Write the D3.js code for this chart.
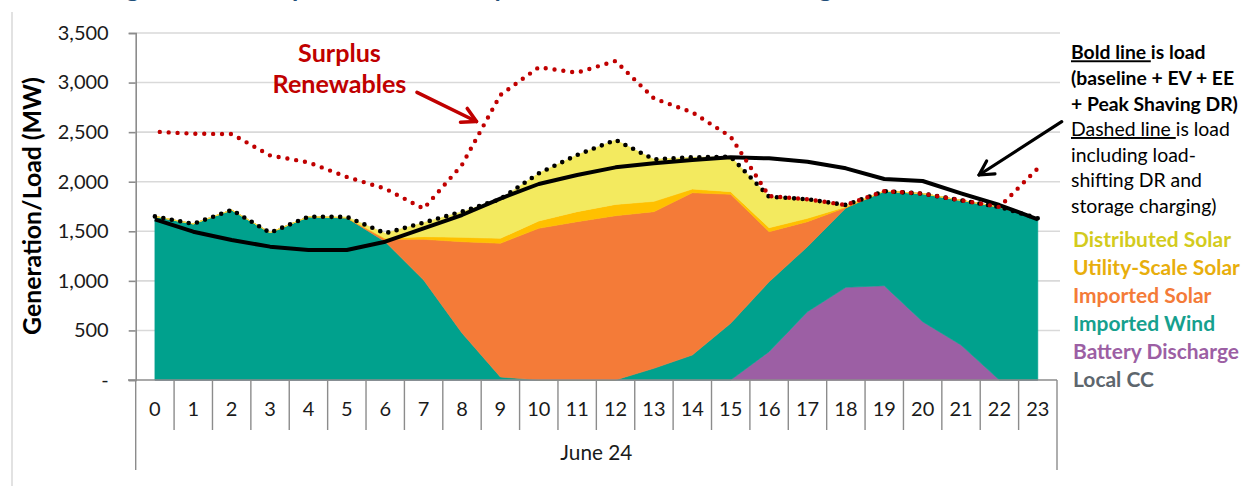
<!DOCTYPE html>
<html><head><meta charset="utf-8">
<script src="https://cdn.jsdelivr.net/npm/d3@7"></script>
<style>
body{margin:0;background:#fff}
svg{display:block}
text{font-family:Lato,"Open Sans","Noto Sans",sans-serif}
</style>
</head><body>
<svg id="c" width="1248" height="486"></svg>
<script>
// ---------------- data ----------------
const hours = [0,1,2,3,4,5,6,7,8,9,10,11,12,13,14,15,16,17,18,19,20,21,22,23];
const dayLabel = "June 24";
const localCC          = [0,0,0,0,0,0,0,0,0,0,0,0,0,0,0,0,0,0,0,0,0,0,0,0];
const batteryDischarge = [0,0,0,0,0,0,0,0,0,0,0,0,0,0,0,0,286,689,935,951,588,353,0,0];
const importedWind     = [1650,1575,1715,1486,1647,1635,1395,1009,474,30,0,0,0,118,252,572,704,656,800,954,1292,1459,1745,1630];
const importedSolar    = [0,0,0,0,0,0,25,410,921,1349,1530,1597,1657,1580,1637,1301,506,252,5,0,0,0,0,0];
const utilitySolar     = [0,0,0,0,0,3,10,27,44,50,74,101,114,104,37,27,40,34,8,0,0,0,0,0];
const distributedSolar = [0,0,0,0,0,7,50,141,259,396,481,572,650,424,320,352,313,192,17,0,0,0,0,0];
const loadBold   = [1620,1496,1412,1345,1311,1311,1395,1530,1664,1830,1977,2068,2145,2186,2219,2246,2236,2202,2135,2027,2007,1883,1765,1621];
const loadDashed = [1650,1575,1715,1486,1647,1645,1480,1587,1698,1825,2085,2270,2421,2226,2246,2252,1849,1823,1765,1905,1880,1812,1745,1630];
const surplusRenewables = [2505,2484,2481,2265,2195,2048,1930,1728,2170,2875,3154,3100,3218,2840,2700,2454,1856,1823,1765,1905,1880,1812,1745,2135];
const yTicks = [0,500,1000,1500,2000,2500,3000,3500];
const yTickLabels = ["-","500","1,000","1,500","2,000","2,500","3,000","3,500"];
const seriesKeys  = ["localCC","batteryDischarge","importedWind","importedSolar","utilitySolar","distributedSolar"];
const seriesNames = ["Local CC","Battery Discharge","Imported Wind","Imported Solar","Utility-Scale Solar","Distributed Solar"];
const seriesFill  = ["#7f8c8d","#9c5fa4","#00a18d","#f47b38","#ffc000","#f3ea5f"];
const legendText  = ["#5d666d","#9c5fa4","#16a08e","#f47b38","#e8ae0c","#d3cb1d"];
const yAxisTitle = "Generation/Load (MW)";
const titleText = "Meeting Load with Imports on a Hot Day with Renewables and Storage";

// ---------------- helpers ----------------
function fit(sel, target){
  const w = sel.node().getComputedTextLength();
  const fs = parseFloat(sel.attr("font-size"));
  sel.attr("font-size", fs*target/w);
  return fs*target/w;
}

const svg = d3.select("#c");
const x = d3.scaleBand().domain(hours).range([135.7, 1057]).padding(0);
const cx = h => x(h) + x.bandwidth()/2;
const y = d3.scaleLinear().domain([0,3500]).range([380,33]);

// title (cut off at top of the image, as in the reference)
const tt = svg.append("text").attr("x",0).attr("y",-3).attr("font-size",27).attr("font-weight","bold")
  .attr("fill","#1f4e79").text(titleText);
{
  const n = tt.node();
  const i1 = titleText.indexOf("g"), i2 = titleText.lastIndexOf("g");
  const d = n.getStartPositionOfChar(i2).x - n.getStartPositionOfChar(i1).x;
  tt.attr("font-size", 27*693/d);
  const p1 = n.getStartPositionOfChar(i1).x;
  tt.attr("x", 126 - p1);
}

// faint chart border
svg.append("line").attr("x1",12).attr("x2",12).attr("y1",12).attr("y2",486).attr("stroke","#d9d9d9").attr("stroke-width",1.5);

// gridlines
svg.append("g").selectAll("line").data(yTicks.filter(d=>d>0)).join("line")
  .attr("x1",135.7).attr("x2",1060).attr("y1",d=>y(d)).attr("y2",d=>y(d))
  .attr("stroke","#d9d9d9").attr("stroke-width",1.6);

// stacked areas
const table = hours.map((h,i)=>({hour:h, localCC:localCC[i], batteryDischarge:batteryDischarge[i],
  importedWind:importedWind[i], importedSolar:importedSolar[i], utilitySolar:utilitySolar[i], distributedSolar:distributedSolar[i]}));
const stacked = d3.stack().keys(seriesKeys)(table);
const area = d3.area().x(d=>cx(d.data.hour)).y0(d=>y(d[0])).y1(d=>y(d[1]));
svg.append("g").selectAll("path").data(stacked).join("path")
  .attr("d",area).attr("fill",(d,i)=>seriesFill[i]).attr("stroke",(d,i)=>seriesFill[i]).attr("stroke-width",0.6);

// lines
const line = d3.line().x((d,i)=>cx(hours[i])).y(d=>y(d));
svg.append("path").attr("d",line(loadBold)).attr("fill","none").attr("stroke","#000").attr("stroke-width",4).attr("stroke-linejoin","round");
svg.append("path").attr("d",line(loadDashed)).attr("fill","none").attr("stroke","#000").attr("stroke-width",4.6)
  .attr("stroke-dasharray","0 8.6").attr("stroke-linecap","round");
svg.append("path").attr("d",line(surplusRenewables)).attr("fill","none").attr("stroke","#c00000").attr("stroke-width",4.4)
  .attr("stroke-dasharray","0 8.9").attr("stroke-linecap","round").attr("stroke-dashoffset",4);

// y axis
const yAxis = svg.append("g").attr("transform","translate(135.7,0)")
  .call(d3.axisLeft(y).tickValues(yTicks).tickFormat((d,i)=>yTickLabels[i]).tickSize(7).tickPadding(20));
yAxis.select(".domain").attr("stroke","#8c8c8c").attr("stroke-width",1.6);
yAxis.selectAll(".tick line").attr("stroke","#8c8c8c").attr("stroke-width",1.6);
yAxis.selectAll(".tick text").attr("font-size",20).attr("fill","#1a1a1a").attr("font-family","Lato,sans-serif");
const axFs = fit(yAxis.selectAll(".tick text").filter((d,i)=>i===7), 51);
yAxis.selectAll(".tick text").attr("font-size",axFs);

// x axis (category) baseline
svg.append("line").attr("x1",128).attr("x2",1057).attr("y1",380).attr("y2",380).attr("stroke","#8c8c8c").attr("stroke-width",1.6);
const xAxis = svg.append("g").attr("transform","translate(0,380)")
  .call(d3.axisBottom(x).tickSize(0).tickPadding(22));
xAxis.select(".domain").remove();
xAxis.selectAll(".tick text").attr("font-size",axFs).attr("fill","#1a1a1a").attr("font-family","Lato,sans-serif");
// separators between categories
const edges = hours.map(h=>x(h)).concat([x(hours[hours.length-1])+x.bandwidth()]);
svg.append("g").selectAll("line").data(edges).join("line")
  .attr("x1",d=>d).attr("x2",d=>d).attr("y1",380)
  .attr("y2",(d,i)=> (i===0||i===edges.length-1) ? 470 : 430)
  .attr("stroke","#8c8c8c").attr("stroke-width",1.4);
const dl = svg.append("text").attr("x",(edges[0]+edges[edges.length-1])/2).attr("y",460)
  .attr("text-anchor","middle").attr("font-size",20).attr("fill","#1a1a1a").text(dayLabel);
fit(dl,72);

// y axis title
const yt = svg.append("text").attr("transform","translate(41,206) rotate(-90)").attr("text-anchor","middle")
  .attr("font-size",22).attr("font-weight","bold").attr("fill","#000").text(yAxisTitle);
fit(yt,258);

// legend
const leg = svg.append("g");
const legOrder = [5,4,3,2,1,0];
const legY = [247.3,275,302.7,331,359.3,386.7];
const legTexts = leg.selectAll("text").data(legOrder).join("text")
  .attr("x",1073).attr("y",(d,i)=>legY[i]).attr("font-size",19).attr("font-weight","bold")
  .attr("fill",d=>legendText[d]).text(d=>seriesNames[d]);
const lfs = fit(legTexts.filter(d=>d===4),167);
legTexts.attr("font-size",lfs);

// right annotation
const ann = svg.append("g").attr("fill","#000");
const annY = [59.3,85,110.5,136,161.5,187,212.7];
const t1 = ann.append("text").attr("x",1071).attr("y",annY[0]).attr("font-weight","bold").attr("font-size",18).style("white-space","pre");
t1.append("tspan").attr("text-decoration","underline").text("Bold line ");
t1.append("tspan").text("is load");
const t2 = ann.append("text").attr("x",1071).attr("y",annY[1]).attr("font-weight","bold").attr("font-size",18).text("(baseline + EV + EE");
const t3 = ann.append("text").attr("x",1071).attr("y",annY[2]).attr("font-weight","bold").attr("font-size",18).text("+ Peak Shaving DR)");
const afs = fit(t3,167);
t1.attr("font-size",afs); t2.attr("font-size",afs);
const t4 = ann.append("text").attr("x",1071).attr("y",annY[3]).attr("font-size",18).style("white-space","pre");
t4.append("tspan").attr("text-decoration","underline").text("Dashed line ");
t4.append("tspan").text("is load");
const nfs = fit(t4,159);
["including load-","shifting DR and","storage charging)"].forEach((s,i)=>{
  ann.append("text").attr("x",1071).attr("y",annY[4+i]).attr("font-size",nfs).text(s);
});

// Surplus Renewables label
const sr = svg.append("g").attr("fill","#c00000");
const s1 = sr.append("text").attr("x",339.5).attr("y",61.7).attr("text-anchor","middle").attr("font-weight","bold").attr("font-size",24).text("Surplus");
const s2 = sr.append("text").attr("x",339.5).attr("y",93.3).attr("text-anchor","middle").attr("font-weight","bold").attr("font-size",24).text("Renewables");
const sfs = fit(s2,134); s1.attr("font-size",sfs);

// arrows
function arrow(x1,y1,x2,y2,color,w,len){
  const a = Math.atan2(y2-y1,x2-x1);
  const g = svg.append("g").attr("stroke",color).attr("stroke-width",w).attr("fill","none").attr("stroke-linecap","round").attr("stroke-linejoin","round");
  g.append("line").attr("x1",x1).attr("y1",y1).attr("x2",x2).attr("y2",y2);
  const p = [[x2-len*Math.cos(a-0.5), y2-len*Math.sin(a-0.5)],[x2,y2],[x2-len*Math.cos(a+0.5), y2-len*Math.sin(a+0.5)]];
  g.append("path").attr("d",d3.line()(p));
}
arrow(417,92.3,476.5,121.5,"#c00000",3.6,16);
arrow(1061.7,121.7,979,175,"#000",3.2,16);
</script>
</body></html>
